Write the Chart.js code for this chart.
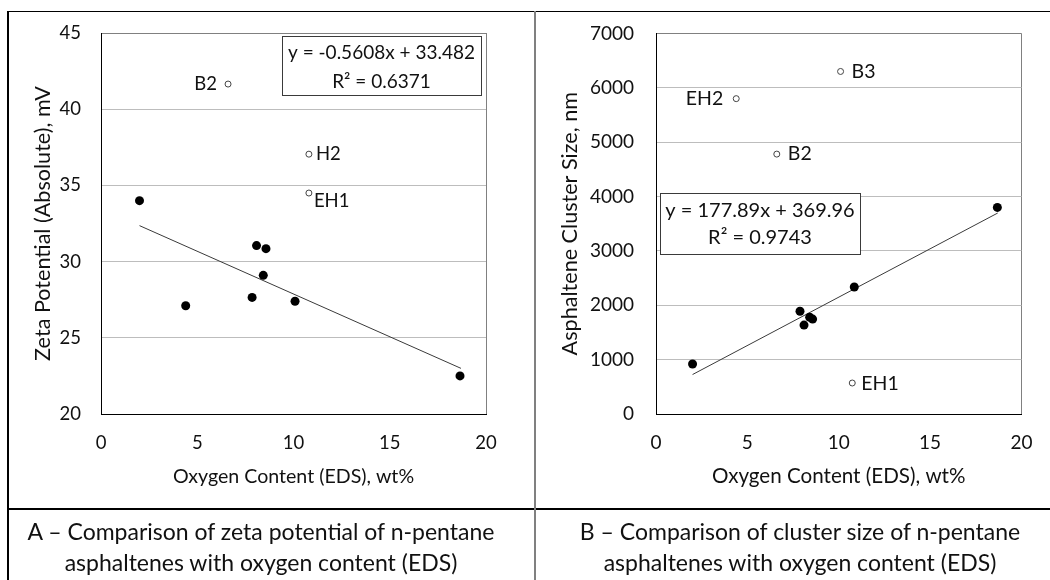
<!DOCTYPE html>
<html>
<head>
<meta charset="utf-8">
<script src="https://cdn.jsdelivr.net/npm/chart.js@4.4.1/dist/chart.umd.min.js"></script>
<style>
  html, body { margin: 0; padding: 0; background: #fff; }
  body { width: 1050px; height: 580px; position: relative; overflow: hidden; font-family: Lato, sans-serif; }
  canvas { position: absolute; top: 0; }
  #chartA { left: 0; }
  #chartB { left: 535px; }
  .rule { position: absolute; }
  .caption { position: absolute; top: 516px; width: 520px; text-align: center; font-size: 23px; line-height: 31px; color: #111; }
</style>
</head>
<body>
<canvas id="chartA" width="535" height="509"></canvas>
<canvas id="chartB" width="515" height="509"></canvas>

<div class="rule" style="left:8px;top:11px;width:1042px;height:1px;background:#000"></div>
<div class="rule" style="left:7px;top:11px;width:2px;height:569px;background:#000"></div>
<div class="rule" style="left:8px;top:508px;width:1042px;height:2px;background:#000"></div>
<div class="rule" style="left:534px;top:11px;width:2px;height:569px;background:#808080"></div>

<div class="caption" style="left:1px">A – Comparison of zeta potential of n-pentane<br>asphaltenes with oxygen content (EDS)</div>
<div class="caption" style="left:540px">B – Comparison of cluster size of n-pentane<br>asphaltenes with oxygen content (EDS)</div>

<script>
// oxygen content (wt%) shared tick labels
const oxygenTicks = [0, 5, 10, 15, 20];

// A: zeta potential vs oxygen
const zetaTicks = [20, 25, 30, 35, 40, 45];
const oxygenA = [2.0, 4.4, 7.85, 8.08, 8.43, 8.57, 10.08, 18.65];
const zetaA = [34.0, 27.1, 27.65, 31.05, 29.1, 30.85, 27.4, 22.5];
const outlierNamesA = ['B2', 'H2', 'EH1'];
const outlierOxygenA = [6.6, 10.8, 10.8];
const outlierZetaA = [41.65, 37.05, 34.5];
const fitA = [-0.5608, 33.482]; // slope, intercept
const r2A = 0.6371;

// B: cluster size vs oxygen
const clusterTicks = [0, 1000, 2000, 3000, 4000, 5000, 6000, 7000];
const oxygenB = [2.0, 7.88, 8.1, 8.41, 8.57, 10.85, 18.68];
const clusterB = [920, 1890, 1635, 1780, 1745, 2335, 3800];
const outlierNamesB = ['B3', 'EH2', 'B2', 'EH1'];
const outlierOxygenB = [10.1, 4.39, 6.61, 10.74];
const outlierClusterB = [6300, 5800, 4780, 570];
const fitB = [177.89, 369.96];
const r2B = 0.9743;

// trendline drawn over the fitted samples only
const trendRange = [2.0, 18.7];

const INK = '#111';
const FONT = 'Lato';

const pts = (xs, ys) => xs.map((x, i) => ({ x: x, y: ys[i] }));
const fmtEq = f => 'y = ' + f[0] + 'x ' + (f[1] < 0 ? '- ' : '+ ') + Math.abs(f[1]);

// names next to the open (excluded) points
const pointLabels = {
  id: 'pointLabels',
  afterDatasetsDraw(chart, args, opts) {
    const ctx = chart.ctx;
    const ds = chart.data.datasets[1];
    const meta = chart.getDatasetMeta(1);
    ctx.save();
    ctx.font = opts.size + 'px ' + FONT;
    ctx.fillStyle = INK;
    ctx.textBaseline = 'middle';
    meta.data.forEach((el, i) => {
      const name = ds.names[i];
      const p = opts.place[name];
      ctx.textAlign = p[0] < 0 ? 'right' : 'left';
      ctx.fillText(name, el.x + p[0], el.y + p[1]);
    });
    ctx.restore();
  }
};

// regression equation box
const fitBox = {
  id: 'fitBox',
  afterDatasetsDraw(chart, args, opts) {
    const ctx = chart.ctx;
    const a = chart.chartArea;
    const x = Math.round(a.left + opts.dx), y = Math.round(a.top + opts.dy);
    ctx.save();
    ctx.fillStyle = '#fff';
    ctx.fillRect(x, y, opts.w, opts.h);
    ctx.strokeStyle = '#3a3a3a';
    ctx.lineWidth = 1;
    ctx.strokeRect(x + 0.5, y + 0.5, opts.w, opts.h);
    ctx.font = opts.size + 'px ' + FONT;
    ctx.fillStyle = INK;
    ctx.textAlign = 'center';
    ctx.textBaseline = 'middle';
    ctx.fillText(opts.lines[0], x + opts.w / 2, y + opts.y1);
    ctx.fillText(opts.lines[1], x + opts.w / 2, y + opts.y2);
    ctx.restore();
  }
};

function makeChart(id, cfg) {
  const tickFont = { family: FONT, size: cfg.tickSize };
  const yMin = cfg.yTicks[0], yMax = cfg.yTicks[cfg.yTicks.length - 1];
  return new Chart(document.getElementById(id), {
    type: 'scatter',
    data: {
      datasets: [
        {
          data: pts(cfg.x, cfg.y),
          pointRadius: 4.5,
          pointBackgroundColor: '#000',
          pointBorderColor: '#000',
          pointBorderWidth: 0,
          order: 0
        },
        {
          data: pts(cfg.ox, cfg.oy),
          names: cfg.names,
          pointRadius: 3,
          pointBackgroundColor: '#fff',
          pointBorderColor: '#444',
          pointBorderWidth: 1,
          order: 1
        },
        {
          data: trendRange.map(x => ({ x: x, y: cfg.fit[0] * x + cfg.fit[1] })),
          showLine: true,
          borderColor: '#3a3a3a',
          borderWidth: 1,
          pointRadius: 0,
          order: 2
        }
      ]
    },
    options: {
      responsive: false,
      animation: false,
      devicePixelRatio: 1,
      layout: { padding: { top: 33, right: cfg.padRight, left: 0, bottom: 0 } },
      plugins: {
        legend: { display: false },
        tooltip: { enabled: false },
        pointLabels: { size: cfg.labelSize, place: cfg.place },
        fitBox: Object.assign({ size: cfg.eqSize, lines: [fmtEq(cfg.fit), 'R² = ' + cfg.r2] }, cfg.box)
      },
      scales: {
        x: {
          type: 'linear',
          min: oxygenTicks[0],
          max: oxygenTicks[oxygenTicks.length - 1],
          ticks: { stepSize: 5, padding: cfg.xTickPad, color: INK, font: tickFont },
          grid: {
            drawTicks: false,
            color: c => c.tick && c.tick.value === oxygenTicks[oxygenTicks.length - 1] ? '#808080' : 'rgba(0,0,0,0)'
          },
          border: { color: '#000', width: 1 },
          title: {
            display: true, text: 'Oxygen Content (EDS), wt%', color: INK,
            font: { family: FONT, size: cfg.xTitleSize },
            padding: { top: 0, bottom: cfg.xTitlePad }
          },
          afterFit: s => { s.height = 95; }
        },
        y: {
          type: 'linear',
          min: yMin,
          max: yMax,
          ticks: {
            stepSize: cfg.yTicks[1] - cfg.yTicks[0],
            padding: cfg.yPad, color: INK, font: tickFont,
            callback: v => String(v)
          },
          grid: {
            drawTicks: false,
            color: c => {
              if (!c.tick) return 'rgba(0,0,0,0)';
              if (c.tick.value === yMax) return '#808080';
              if (c.tick.value === yMin) return 'rgba(0,0,0,0)';
              return '#bdbdbd';
            }
          },
          border: { color: '#000', width: 1 },
          title: {
            display: true, text: cfg.yTitle, color: INK,
            font: { family: FONT, size: cfg.yTitleSize },
            padding: { top: cfg.yTitlePad, bottom: 0 }
          },
          afterFit: s => { s.width = cfg.yWidth; }
        }
      }
    },
    plugins: [pointLabels, fitBox]
  });
}

makeChart('chartA', {
  tickSize: 18.5, xTitleSize: 19.6, yTitleSize: 21.6, eqSize: 19, labelSize: 18.5,
  x: oxygenA, y: zetaA,
  ox: outlierOxygenA, oy: outlierZetaA, names: outlierNamesA,
  fit: fitA, r2: r2A,
  yTicks: zetaTicks,
  yTitle: 'Zeta Potential (Absolute), mV',
  yWidth: 101, yPad: 20, yTitlePad: 30, xTickPad: 18, xTitlePad: 21, padRight: 49,
  place: { B2: [-11, 0], H2: [7, 0], EH1: [5, 8] },
  box: { dx: 181, dy: 3, w: 199, h: 59, y1: 17, y2: 46 }
});

makeChart('chartB', {
  tickSize: 19, xTitleSize: 20.6, yTitleSize: 21.6, eqSize: 20, labelSize: 19.5,
  x: oxygenB, y: clusterB,
  ox: outlierOxygenB, oy: outlierClusterB, names: outlierNamesB,
  fit: fitB, r2: r2B,
  yTicks: clusterTicks,
  yTitle: 'Asphaltene Cluster Size, nm',
  yWidth: 121, yPad: 22, yTitlePad: 22, xTickPad: 17.5, xTitlePad: 20.5, padRight: 16,
  place: { B3: [11, 0], EH2: [-13, 0], B2: [11, 0], EH1: [9, 1] },
  box: { dx: 4, dy: 160, w: 200, h: 61, y1: 18, y2: 45 }
});
</script>
</body>
</html>
